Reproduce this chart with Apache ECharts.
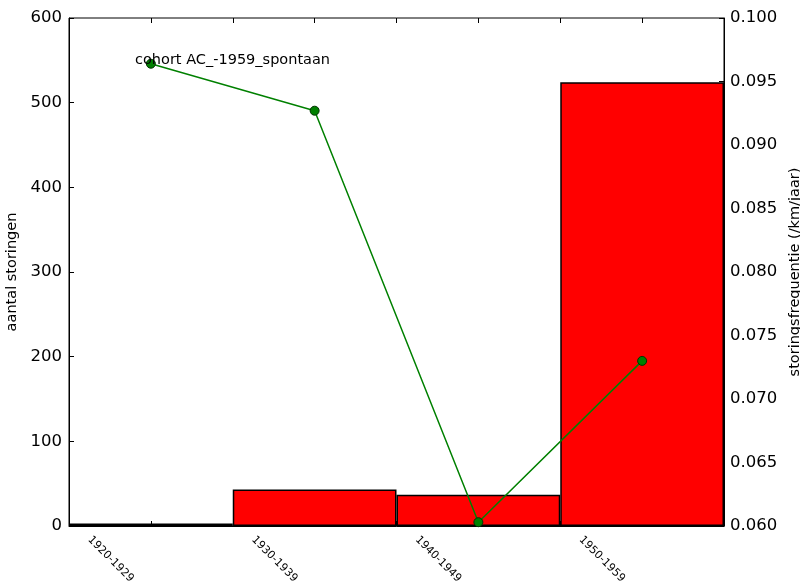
<!DOCTYPE html>
<html>
<head>
<meta charset="utf-8">
<script src="https://cdn.jsdelivr.net/npm/echarts@6/dist/echarts.min.js"></script>
<style>html,body{margin:0;padding:0;background:#fff}#c{width:800px;height:587px}</style>
</head>
<body>
<div id="c"></div>
<script>
var categories = ['1920-1929', '1930-1939', '1940-1949', '1950-1959'];
var counts = [3, 43, 37, 524];
var frequency = [0.0964, 0.0927, 0.0603, 0.0730];
var leftTicks = {min: 0, max: 600, interval: 100};
var rightTicks = {min: 0.060, max: 0.100, interval: 0.005};
var titleText = 'cohort AC_-1959_spontaan';
var leftName = 'aantal storingen';
var rightName = 'storingsfrequentie (/km/jaar)';

var FONT = 'DejaVu Sans';
// label axis: 16 slots, labels at every 4th slot
var labelSlots = [];
categories.forEach(function (c) { labelSlots.push(c, '', '', ''); });
var tickSlots = [];
categories.forEach(function (c) { tickSlots.push(c, c); });

var chart = echarts.init(document.getElementById('c'));
chart.setOption({
  animation: false,
  backgroundColor: '#fff',
  title: {
    text: titleText, left: 135, top: 53, padding: 0,
    textStyle: {fontFamily: FONT, fontSize: 14.5, fontWeight: 'normal', color: '#000'}
  },
  grid: {left: 69, right: 76, top: 18, bottom: 61, show: true, borderColor: '#000', borderWidth: 1,
         backgroundColor: 'transparent', containLabel: false, outerBoundsMode: 'none'},
  xAxis: [
    {type: 'category', data: categories, boundaryGap: true, position: 'bottom',
     axisLine: {show: true, lineStyle: {color: '#000', width: 1}},
     axisTick: {show: false}, axisLabel: {show: false}, splitLine: {show: false}},
    {type: 'category', data: tickSlots, boundaryGap: true, position: 'bottom',
     axisLine: {show: false}, axisTick: {show: true, inside: true, length: 5, interval: 0, lineStyle: {color: '#000'}},
     axisLabel: {show: false}, splitLine: {show: false}},
    {type: 'category', data: tickSlots, boundaryGap: true, position: 'top',
     axisLine: {show: false}, axisTick: {show: true, inside: true, length: 5, interval: 0, lineStyle: {color: '#000'}},
     axisLabel: {show: false}, splitLine: {show: false}},
    {type: 'category', data: labelSlots, boundaryGap: true, position: 'bottom',
     axisLine: {show: false}, axisTick: {show: false},
     axisLabel: {show: true, interval: 3, rotate: -45, margin: 12, fontFamily: FONT, fontSize: 11, color: '#000', hideOverlap: false},
     splitLine: {show: false}}
  ],
  yAxis: [
    {type: 'value', min: leftTicks.min, max: leftTicks.max, interval: leftTicks.interval, position: 'left',
     name: leftName, nameLocation: 'middle', nameGap: 47, nameRotate: 90,
     nameTextStyle: {fontFamily: FONT, fontSize: 14.5, color: '#000'},
     axisLine: {show: true, lineStyle: {color: '#000'}},
     axisTick: {show: true, inside: true, length: 5, lineStyle: {color: '#000'}},
     axisLabel: {fontFamily: FONT, fontSize: 16.5, color: '#000', margin: 7},
     splitLine: {show: false}},
    {type: 'value', min: rightTicks.min, max: rightTicks.max, interval: rightTicks.interval, position: 'right',
     name: rightName, nameLocation: 'middle', nameGap: 55, nameRotate: 90,
     nameTextStyle: {fontFamily: FONT, fontSize: 14.5, color: '#000'},
     axisLine: {show: true, lineStyle: {color: '#000'}},
     axisTick: {show: true, inside: true, length: 5, lineStyle: {color: '#000'}},
     axisLabel: {fontFamily: FONT, fontSize: 16.5, color: '#000', margin: 6,
       formatter: function (v) { return v.toFixed(3); }},
     splitLine: {show: false}}
  ],
  series: [
    {type: 'bar', xAxisIndex: 0, yAxisIndex: 0, data: counts, barWidth: '100%', barCategoryGap: '0%',
     itemStyle: {color: '#ff0000', borderColor: '#000', borderWidth: 1.5}},
    {type: 'line', xAxisIndex: 0, yAxisIndex: 1, data: frequency, symbol: 'circle', symbolSize: 9,
     lineStyle: {color: '#008000', width: 1.5},
     itemStyle: {color: '#008000', borderColor: '#003300', borderWidth: 1}, z: 5}
  ]
});
</script>
</body>
</html>
